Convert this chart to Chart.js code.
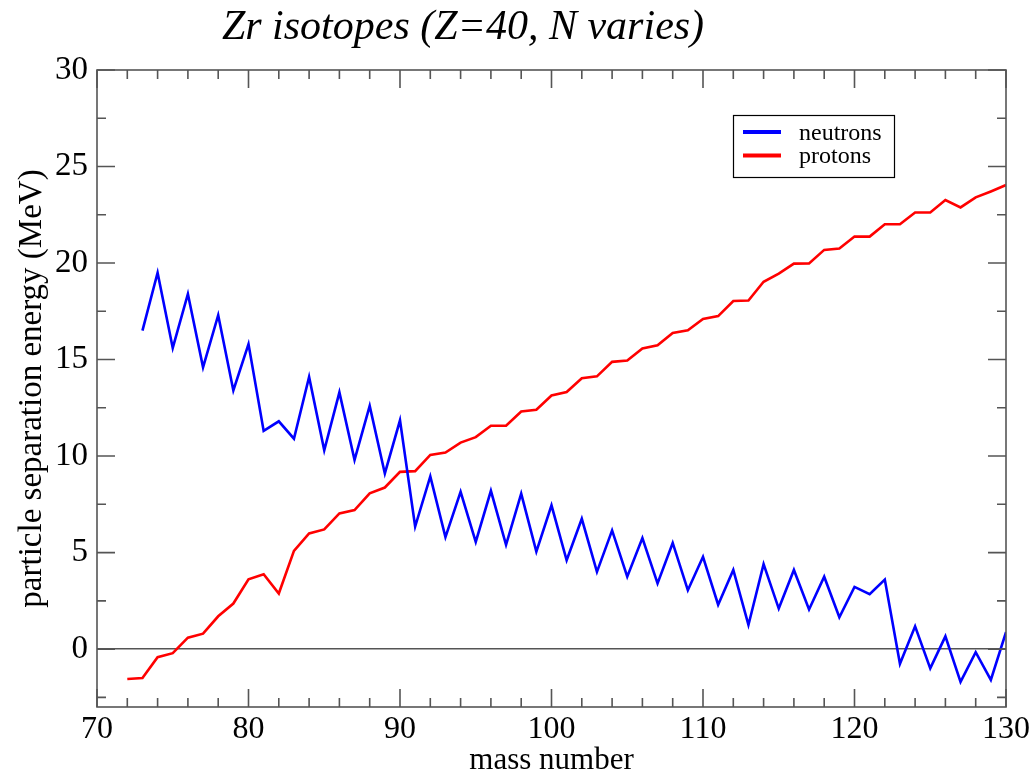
<!DOCTYPE html>
<html>
<head>
<meta charset="utf-8">
<script src="https://cdn.jsdelivr.net/npm/chart.js@4"></script>
<style>
  body { margin: 0; background: #fff; }
  #wrap { width: 1033px; height: 772px; }
</style>
</head>
<body>
<div id="wrap"><canvas id="grafico" width="1033" height="772"></canvas></div>
<script>
// datos
const titulo = 'Zr isotopes (Z=40, N varies)';
const masaNeutrones = [73, 74, 75, 76, 77, 78, 79, 80, 81, 82, 83, 84, 85, 86, 87, 88, 89, 90,
  91, 92, 93, 94, 95, 96, 97, 98, 99, 100, 101, 102, 103, 104, 105, 106, 107, 108, 109, 110,
  111, 112, 113, 114, 115, 116, 117, 118, 119, 120, 121, 122, 123, 124, 125, 126, 127, 128, 129, 130];
const energiaNeutrones = [16.5, 19.5, 15.6, 18.4, 14.6, 17.3, 13.4, 15.8, 11.3, 11.8, 10.9, 14.1,
  10.3, 13.3, 9.8, 12.6, 9.1, 11.85, 6.35, 8.95, 5.8, 8.15, 5.55, 8.2, 5.4, 8.05, 5.05, 7.45,
  4.6, 6.75, 4.0, 6.15, 3.75, 5.75, 3.4, 5.5, 3.05, 4.78, 2.3, 4.1, 1.25, 4.4, 2.1, 4.1, 2.05,
  3.75, 1.65, 3.22, 2.84, 3.6, -0.76, 1.18, -1.0, 0.66, -1.7, -0.16, -1.6, 0.88];
const masaProtones = [72, 73, 74, 75, 76, 77, 78, 79, 80, 81, 82, 83, 84, 85, 86, 87, 88, 89, 90,
  91, 92, 93, 94, 95, 96, 97, 98, 99, 100, 101, 102, 103, 104, 105, 106, 107, 108, 109, 110,
  111, 112, 113, 114, 115, 116, 117, 118, 119, 120, 121, 122, 123, 124, 125, 126, 127, 128, 129, 130];
const energiaProtones = [-1.55, -1.5, -0.42, -0.21, 0.59, 0.8, 1.7, 2.36, 3.62, 3.88, 2.88, 5.09,
  5.99, 6.2, 7.03, 7.2, 8.07, 8.37, 9.18, 9.22, 10.06, 10.18, 10.7, 10.98, 11.57, 11.57, 12.31,
  12.4, 13.14, 13.32, 14.03, 14.13, 14.88, 14.95, 15.57, 15.74, 16.38, 16.52, 17.1, 17.25, 18.03,
  18.06, 19.03, 19.45, 19.97, 19.98, 20.68, 20.75, 21.37, 21.37, 22.01, 22.01, 22.62, 22.62,
  23.26, 22.88, 23.4, 23.71, 24.04];
const ticksX = [70, 80, 90, 100, 110, 120, 130];
const ticksY = [0, 5, 10, 15, 20, 25, 30];

const fuente = '"Liberation Serif", "Times New Roman", serif';
const gris = '#555';

// marcas de los ejes hacia dentro, caja, titulo y leyenda
const marcos = {
  id: 'marcos',
  afterDatasetsDraw(chart) {
    const { ctx, chartArea: a, scales: { x, y } } = chart;
    ctx.save();
    ctx.strokeStyle = gris;
    ctx.lineWidth = 1.6;
    ctx.strokeRect(a.left, a.top, a.right - a.left, a.bottom - a.top);
    ctx.beginPath();
    for (let v = 70; v <= 130; v += 2) {
      const px = x.getPixelForValue(v);
      const len = v % 10 === 0 ? 18 : 9;
      ctx.moveTo(px, a.bottom); ctx.lineTo(px, a.bottom - len);
      ctx.moveTo(px, a.top); ctx.lineTo(px, a.top + len);
    }
    for (let v = -2.5; v <= 30; v += 2.5) {
      const py = y.getPixelForValue(v);
      const len = v % 5 === 0 ? 18 : 9;
      ctx.moveTo(a.left, py); ctx.lineTo(a.left + len, py);
      ctx.moveTo(a.right, py); ctx.lineTo(a.right - len, py);
    }
    ctx.stroke();

    // titulo
    ctx.fillStyle = '#000';
    ctx.font = 'italic 42px ' + fuente;
    ctx.textAlign = 'center';
    ctx.textBaseline = 'alphabetic';
    ctx.fillText(titulo, 463, 39);

    // leyenda
    ctx.fillStyle = '#fff';
    ctx.fillRect(733.5, 115.5, 161, 62);
    ctx.strokeStyle = '#000';
    ctx.lineWidth = 1.2;
    ctx.strokeRect(733.5, 115.5, 161, 62);
    ctx.font = '24px ' + fuente;
    ctx.textAlign = 'left';
    const filas = [139.5, 163];
    chart.data.datasets.forEach((ds, i) => {
      ctx.strokeStyle = ds.borderColor;
      ctx.lineWidth = 4;
      ctx.beginPath();
      ctx.moveTo(743, filas[i] - 7.5);
      ctx.lineTo(781, filas[i] - 7.5);
      ctx.stroke();
      ctx.fillStyle = '#000';
      ctx.fillText(ds.label, 799, filas[i]);
    });
    ctx.restore();
  }
};

const ctx = document.getElementById('grafico').getContext('2d');
new Chart(ctx, {
  type: 'line',
  data: {
    datasets: [
      {
        label: 'neutrons',
        data: masaNeutrones.map((m, i) => ({ x: m, y: energiaNeutrones[i] })),
        borderColor: '#0000ff',
        borderWidth: 2.6,
        pointRadius: 0,
        tension: 0
      },
      {
        label: 'protons',
        data: masaProtones.map((m, i) => ({ x: m, y: energiaProtones[i] })),
        borderColor: '#ff0000',
        borderWidth: 2.6,
        pointRadius: 0,
        tension: 0
      }
    ]
  },
  options: {
    responsive: false,
    animation: false,
    layout: { padding: { left: 0, right: 26, top: 70, bottom: 0 } },
    plugins: {
      legend: { display: false },
      tooltip: { enabled: false }
    },
    scales: {
      x: {
        type: 'linear',
        min: 70,
        max: 130,
        afterBuildTicks: s => { s.ticks = ticksX.map(v => ({ value: v })); },
        afterFit: s => { s.height = 65; },
        grid: { display: false, drawTicks: false },
        border: { display: false },
        ticks: { color: '#000', padding: 3, font: { family: fuente, size: 32 } },
        title: {
          display: true,
          text: 'mass number',
          color: '#000',
          font: { family: fuente, size: 31, lineHeight: 0.7 },
          padding: { top: 0, bottom: 0 }
        }
      },
      y: {
        min: -3,
        max: 30,
        afterBuildTicks: s => { s.ticks = ticksY.map(v => ({ value: v })); },
        afterFit: s => { s.width = 97; },
        grid: {
          drawTicks: false,
          lineWidth: 1.4,
          color: c => (c.tick && c.tick.value === 0 ? gris : 'rgba(0,0,0,0)')
        },
        border: { display: false },
        ticks: { color: '#000', padding: 9, font: { family: fuente, size: 33 } },
        title: {
          display: true,
          text: 'particle separation energy (MeV)',
          color: '#000',
          font: { family: fuente, size: 33 },
          padding: { top: 13, bottom: 0 }
        }
      }
    }
  },
  plugins: [marcos]
});
</script>
</body>
</html>
